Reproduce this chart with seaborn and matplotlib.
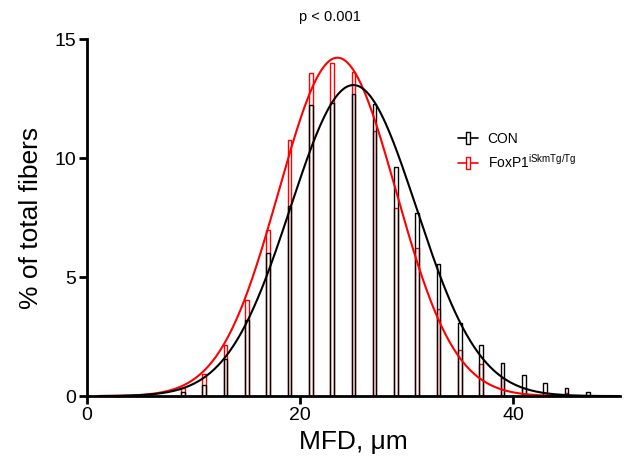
import numpy as np
import pandas as pd
import matplotlib
matplotlib.use("Agg")
import matplotlib.pyplot as plt
import seaborn as sns
from matplotlib.lines import Line2D

# data
bin_centers = [9, 11, 13, 15, 17, 19, 21, 23, 25, 27, 29, 31, 33, 35, 37, 39, 41, 43, 45, 47]
con_pct = [0.18, 0.46, 1.54, 3.19, 6.02, 7.98, 12.23, 12.30, 12.68, 12.27,
           9.61, 7.70, 5.57, 3.08, 2.14, 1.41, 0.87, 0.56, 0.32, 0.17]
fox_pct = [0.35, 0.91, 2.14, 4.03, 6.97, 10.76, 13.56, 14.00, 13.63, 11.13,
           7.89, 6.23, 3.64, 1.93, 1.34, 0.78, 0.32, 0.05, 0.15, 0.0]
bin_edges = [8, 10, 12, 14, 16, 18, 20, 22, 24, 26, 28, 30, 32, 34, 36, 38, 40, 42, 44, 46, 48]

# gaussian fit parameters (amplitude, mean, SD)
con_fit = [13.07, 25.0, 5.9]
fox_fit = [14.22, 23.5, 5.5]

sns.set_style("ticks")
plt.rcParams['font.family'] = ['Liberation Sans', 'DejaVu Sans']
plt.rcParams['mathtext.fontset'] = 'custom'
plt.rcParams['mathtext.rm'] = 'Liberation Sans'
for k in ['text.color', 'axes.labelcolor', 'xtick.color', 'ytick.color', 'axes.edgecolor']:
    plt.rcParams[k] = 'black'

fig = plt.figure(figsize=(6.26, 4.66), dpi=100)
ax = fig.add_axes([0.139, 0.150, 0.851, 0.766])

df = pd.DataFrame({'MFD': bin_centers, 'CON': con_pct, 'FoxP1': fox_pct})

sns.histplot(data=df, x='MFD', weights='FoxP1', bins=bin_edges, fill=False,
             shrink=0.17, color='red', linewidth=1, ax=ax)
sns.histplot(data=df, x='MFD', weights='CON', bins=bin_edges, fill=False,
             shrink=0.17, color='black', linewidth=1, ax=ax)

xs = np.linspace(1, 50, 400)
def gauss(x, p):
    return p[0] * np.exp(-(x - p[1]) ** 2 / (2 * p[2] ** 2))

sns.lineplot(x=xs, y=gauss(xs, fox_fit), color='red', linewidth=1.5,
             estimator=None, ax=ax)
sns.lineplot(x=xs, y=gauss(xs, con_fit), color='black', linewidth=1.5,
             estimator=None, ax=ax)

ax.set_xlim(0, 50)
ax.set_ylim(0, 15)
ax.set_xticks([0, 20, 40])
ax.set_yticks([0, 5, 10, 15])
sns.despine(ax=ax)
for s in ['left', 'bottom']:
    ax.spines[s].set_linewidth(2)
ax.tick_params(axis='both', labelsize=14, width=2, length=6, pad=2)

ax.set_xlabel('MFD, \u03bcm', fontsize=19, labelpad=4)
ax.set_ylabel('% of total fibers', fontsize=19, labelpad=8)
ax.text(0.456, 1.062, 'p < 0.001', transform=ax.transAxes, ha='center',
        va='center', fontsize=10.5)

rect = [(-0.3, -1), (0.3, -1), (0.3, 1), (-0.3, 1), (-0.3, -1)]
handles = [
    Line2D([], [], color='black', lw=1.2, marker=rect, markersize=9,
           markerfacecolor='white', markeredgecolor='black', markeredgewidth=1),
    Line2D([], [], color='red', lw=1.2, marker=rect, markersize=9,
           markerfacecolor='white', markeredgecolor='red', markeredgewidth=1),
]
ax.legend(handles, ['CON', r'FoxP1$^{\mathrm{iSkmTg/Tg}}$'], loc='upper left',
          bbox_to_anchor=(0.696, 0.74), frameon=False, fontsize=10,
          handlelength=1.45, handletextpad=0.7, labelspacing=0.5, borderpad=0,
          borderaxespad=0)

fig.savefig('out.png', dpi=100)
